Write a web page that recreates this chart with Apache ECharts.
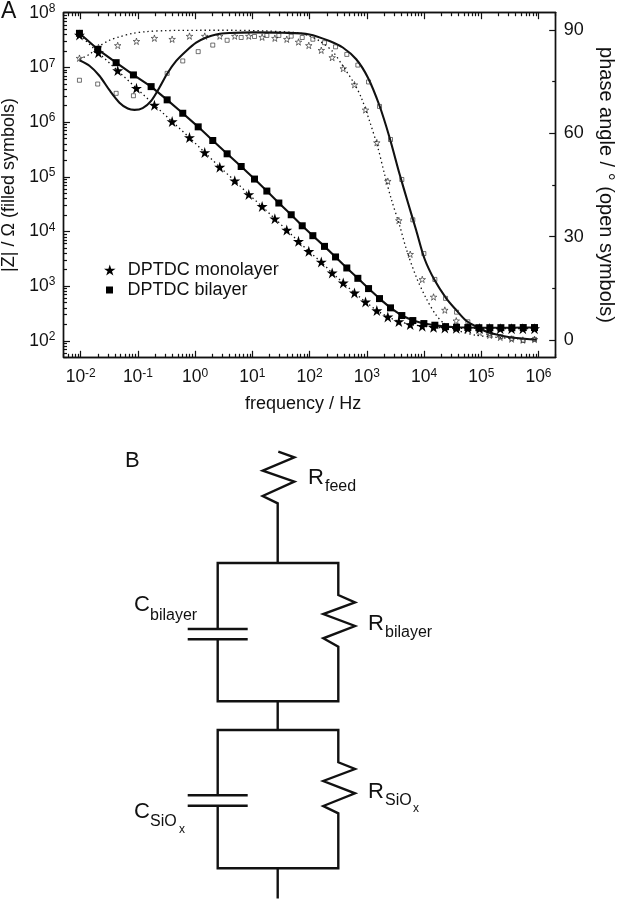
<!DOCTYPE html>
<html><head><meta charset="utf-8">
<style>html,body{margin:0;padding:0;background:#fff}#c{width:618px;height:899px}</style>
<script src="https://cdn.jsdelivr.net/npm/echarts@6/dist/echarts.min.js"></script>
</head><body><div id="c"></div>
<script>
const monoFreq=[0.0095,0.0204,0.0443,0.0942,0.194,0.396,0.795,1.47,2.69,4.92,8.65,14.8,24.7,39.9,63.9,96.8,160,248,387,609,949,1496,2328,3625,5737,9306,14660,23100,36560,58300,93300,139700,214800,338800,533500,853000];
const monoZ=[3.92e7,1.86e7,8.73e6,4.16e6,2.04e6,1.02e6,5.21e5,2.78e5,1.5e5,8.45e4,4.75e4,2.87e4,1.71e4,1.06e4,6590,4325,2770,1745,1145,752,515,357,274,225,199,185,177,172,170,170,168,168,167,167,167,167];
const monoPhase=[81.8,84.9,85.5,86.7,87.6,87.3,88.2,88.2,88.2,88.2,88.2,87.9,87.6,87.3,86.5,85.5,84.1,82,78.8,74.1,66.8,57.3,46.1,34.7,24.9,17.6,12.5,8.7,5.6,3.7,2.2,1.4,0.8,0.3,0,0.2];
const bilayerFreq=[0.0095,0.0198,0.0416,0.0834,0.17,0.324,0.607,1.13,2.03,3.62,6.37,10.9,17.9,29,47.7,74.3,114,182,284,447,697,1072,1667,2594,4092,6368,9931,15450,23770,36980,58340,90800,141300,220300,342800,542000,853000];
const bilayerZ=[4.2e7,2.14e7,1.22e7,7.28e6,4.45e6,2.55e6,1.45e6,8.18e5,4.6e5,2.63e5,1.54e5,9.08e4,5.48e4,3.31e4,2.02e4,1.27e4,8370,5335,3420,2150,1390,902,592,401,290,235,207,193,182,177,175,174,174,174,174,175,175];
const bilayerPhase=[75.4,74.3,71.6,70.9,73.3,77.4,81,83.7,85.6,87,87.8,88.1,88.4,88.4,88.2,87.8,87.3,86.3,85.1,82.9,79.8,74.9,67.8,58.2,46.6,34.9,25.1,17.6,12.1,8.1,5.3,3.4,1.9,1,0.5,-0.1,0.2];
const bilayerFitFreq=[0.0095,0.0142,0.0212,0.0318,0.0475,0.0664,0.0869,0.121,0.17,0.238,0.324,0.466,0.697,1.04,1.56,2.33,3.98,10.2,34,99.5,223,380,653,1042,1667,2495,3733,5210,7310,10200,15270,24430,36560,54700,81800,139700,238800,409000,916000];
const bilayerFitPhase=[81.2,79.6,76.7,72.5,68.9,67.2,66.8,67.3,69.4,73.3,77.3,81,83.9,86.3,87.8,88.7,89.1,89.3,89.2,88.7,86.8,84.9,81.5,76.2,68,58.8,48.2,40,31.8,23.6,17.4,12.1,8.7,5.6,3.9,2.1,1.2,0.6,0.1];
const monoFitFreq=[0.0095,0.0142,0.0212,0.0318,0.0475,0.0811,0.139,0.311,1.19,4.54,17.4,66.6,99.5,149,248,380,609,798,1114,1556,2037,2667,3733,4887,7310,10900,16330,24430,41800,81800,182800,409000,916000];
const monoFitPhase=[81.5,82.9,85.3,87,88,89,89.5,89.8,89.9,89.9,89.7,89.1,88.2,86.8,83.9,79.6,74.3,70.4,63.6,55.9,48.2,41,33.3,26.5,18.3,12.1,7.2,4.3,2.6,1.4,0.8,0.4,0.2];
const xMajor=[1e-2,1e-1,1,10,100,1e3,1e4,1e5,1e6];
const yMajor=[1e2,1e3,1e4,1e5,1e6,1e7,1e8];
const phaseMajor=[0,30,60,90];
const phaseMinor=[15,45,75];
const minorLeads=[2,3,4,5,6,7,8,9];
const xDecades=[1e-3,1e-2,1e-1,1,10,100,1e3,1e4,1e5,1e6];
const yDecades=[10,100,1e3,1e4,1e5,1e6,1e7];
const xMinor=[];
for(const d of xDecades) for(const m of minorLeads){const v=+(m*d).toPrecision(3); if(v>=0.005&&v<=2e6) xMinor.push(v);}
const yMinor=[];
for(const d of yDecades) for(const m of minorLeads){const v=m*d; if(v>=50&&v<=1e8) yMinor.push(v);}

const zip=(a,b)=>a.map((x,i)=>[x,b[i]]);
const FONT='"Liberation Sans", Arial, sans-serif';
const STAR='path://M50,0 L61.2,34.5 L97.6,34.5 L68.2,55.9 L79.4,90.5 L50,69.1 L20.6,90.5 L31.8,55.9 L2.4,34.5 L38.8,34.5 Z';
const SQUARE='path://M0,0 H100 V100 H0 Z';
const INK='#111';
const pow10=v=>{const e=Math.round(Math.log10(v));return '{b|10}{s|'+e+'}';};
const rich={b:{fontFamily:FONT,fontSize:17.5,color:INK},s:{fontFamily:FONT,fontSize:12,color:INK,padding:[0,0,8,0]}};
const line={show:true,onZero:false,lineStyle:{color:INK,width:1.4}};
const tickStyle={color:INK,width:1.2};

function xAx(position,vals,len,labels,name){
  return {type:'log',logBase:10,min:0.005,max:2e6,gridIndex:0,position,
    axisLine:line,splitLine:{show:false},minorTick:{show:false},
    axisTick:{show:true,inside:true,length:len,customValues:vals,lineStyle:tickStyle},
    axisLabel:labels?{show:true,customValues:xMajor,formatter:pow10,rich,margin:10}:{show:false},
    ...(name?{name,nameLocation:'middle',nameGap:38,nameTextStyle:{fontFamily:FONT,fontSize:18,color:INK,padding:[0,13,0,0]}}:{})};
}
function yAx(vals,len,labels,name){
  return {type:'log',logBase:10,min:50,max:1e8,gridIndex:0,position:'left',
    axisLine:line,splitLine:{show:false},minorTick:{show:false},
    axisTick:{show:true,inside:true,length:len,customValues:vals,lineStyle:tickStyle},
    axisLabel:labels?{show:true,customValues:yMajor,formatter:pow10,rich,margin:8}:{show:false},
    ...(name?{name,nameLocation:'middle',nameGap:44,nameRotate:90,nameTextStyle:{fontFamily:FONT,fontSize:18,color:INK}}:{})};
}
function pAx(vals,len,labels,name){
  return {type:'value',min:-5,max:95,gridIndex:0,position:'right',
    axisLine:line,splitLine:{show:false},
    axisTick:{show:true,inside:true,length:len,customValues:vals,lineStyle:tickStyle},
    axisLabel:labels?{show:true,customValues:phaseMajor,color:INK,fontFamily:FONT,fontSize:18,margin:8}:{show:false},
    ...(name?{name,nameLocation:'middle',nameGap:40,nameRotate:-90,nameTextStyle:{fontFamily:FONT,fontSize:20,color:INK}}:{})};
}
const wire=(pts)=>({type:'polyline',shape:{points:pts},style:{stroke:'#111',lineWidth:2.4,fill:null,lineJoin:'miter'},silent:true});
const txt=(x,base,text,size)=>({type:'text',x:x,y:base+size*0.2,style:{text,x:0,y:0,fill:INK,font:size+'px '+FONT,verticalAlign:'bottom',textAlign:'left'},silent:true});
const wires=[
 [[278.3,451.7],[294.3,457.3],[262.7,470.7],[294.3,481.7],[262.7,496],[277.7,503.3],[277.7,562.7]],
 [[217.7,629],[217.7,563],[338.3,563],[338.3,595],[355,602.3],[323.3,614],[355,626],[323.3,638.3],[338.3,646.7],[338.3,701.3],[217.7,701.3],[217.7,639.3]],
 [[187.7,629],[247.7,629]],[[187.7,639.3],[247.7,639.3]],
 [[277.7,701.3],[277.7,730]],
 [[217.7,795.3],[217.7,730],[338.3,730],[338.3,762.3],[355,769],[323.3,781],[355,793.3],[323.3,806],[338.3,813.3],[338.3,868.3],[217.7,868.3],[217.7,805.7]],
 [[187.7,795.3],[247.7,795.3]],[[187.7,805.7],[247.7,805.7]],
 [[277.7,868.3],[277.7,898.5]]
];
const labels=[
 [1,19,'A',23],[125,468,'B',22],
 [308,485,'R',22],[325,491.5,'feed',16],
 [134,611.5,'C',22],[150,620,'bilayer',16],
 [368,630.5,'R',22],[385,637.5,'bilayer',16],
 [368,798.5,'R',22],[385,805,'SiO',16],[413,812.5,'x',12],
 [134,819,'C',22],[150,826,'SiO',16],[179,833,'x',12]
];

const chart=echarts.init(document.getElementById('c'));
chart.setOption({
 animation:false,backgroundColor:'#fff',
 textStyle:{fontFamily:FONT},
 grid:{left:63.5,right:62.3,top:12.7,bottom:541.7,outerBoundsMode:'none'},
 xAxis:[xAx('bottom',xMajor,6.5,true,'frequency / Hz'),xAx('bottom',xMinor,3.5),xAx('top',xMajor,6.5),xAx('top',xMinor,3.5)],
 yAxis:[yAx(yMajor,6.5,true,'|Z| / Ω (filled symbols)'),yAx(yMinor,3.5),pAx(phaseMajor,6.5,true,'phase angle / ° (open symbols)'),pAx(phaseMinor,3.5)],
 legend:[
  {left:104,top:261,orient:'vertical',itemWidth:26,itemHeight:11,padding:0,data:[{name:'DPTDC monolayer',icon:STAR,itemStyle:{color:'#000'}}],textStyle:{fontFamily:FONT,fontSize:18,color:INK},selectedMode:false},
  {left:106,top:281,orient:'vertical',itemWidth:26,itemHeight:7,padding:0,data:[{name:'DPTDC bilayer',icon:SQUARE,itemStyle:{color:'#000'}}],textStyle:{fontFamily:FONT,fontSize:18,color:INK},selectedMode:false}
 ],
 series:[
  {name:'mono phase fit',type:'line',xAxisIndex:0,yAxisIndex:2,data:zip(monoFitFreq,monoFitPhase),showSymbol:false,smooth:0.3,lineStyle:{color:'#111',width:1.3,type:[1.4,3]},z:2},
  {name:'bilayer phase fit',type:'line',xAxisIndex:0,yAxisIndex:2,data:zip(bilayerFitFreq,bilayerFitPhase),showSymbol:false,smooth:0.3,lineStyle:{color:'#111',width:2.1},z:2},
  {name:'mono phase',type:'scatter',xAxisIndex:0,yAxisIndex:2,data:zip(monoFreq,monoPhase),symbol:STAR,symbolSize:6.5,itemStyle:{color:'rgba(255,255,255,0)',borderColor:'#222',borderWidth:0.8},z:3},
  {name:'bilayer phase',type:'scatter',xAxisIndex:0,yAxisIndex:2,data:zip(bilayerFreq,bilayerPhase),symbol:SQUARE,symbolSize:4,itemStyle:{color:'rgba(255,255,255,0)',borderColor:'#222',borderWidth:0.8},z:3},
  {name:'DPTDC monolayer',type:'line',xAxisIndex:0,yAxisIndex:0,data:zip(monoFreq,monoZ),symbol:STAR,symbolSize:11,showAllSymbol:true,itemStyle:{color:'#000'},lineStyle:{color:'#111',width:1.3,type:[1.4,3]},z:4},
  {name:'DPTDC bilayer',type:'line',xAxisIndex:0,yAxisIndex:0,data:zip(bilayerFreq,bilayerZ),symbol:SQUARE,symbolSize:7,showAllSymbol:true,itemStyle:{color:'#000'},lineStyle:{color:'#111',width:2.1},z:5}
 ],
 graphic:{elements:[...wires.map(wire),...labels.map(l=>txt(l[0],l[1],l[2],l[3]))]}
});
</script></body></html>
